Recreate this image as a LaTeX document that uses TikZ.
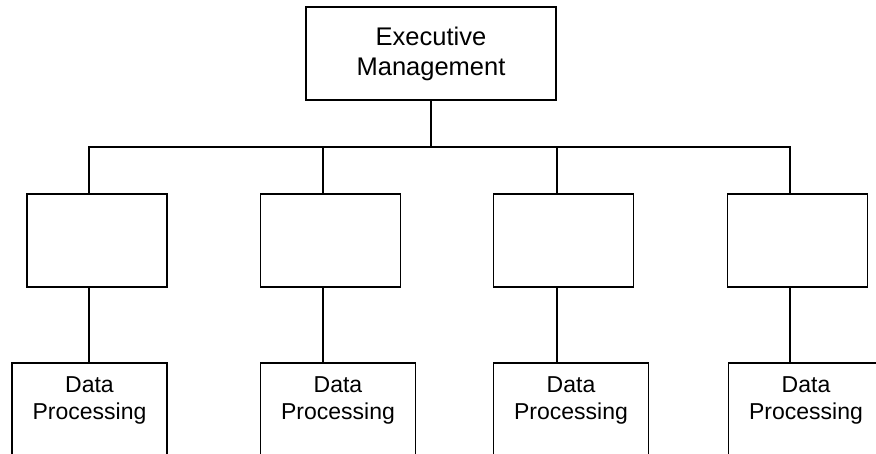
\documentclass[tikz,border=0pt]{standalone}
\usepackage{fontspec}
\setmainfont{Liberation Sans}
\tikzset{
  orgbox/.style={draw, line width=1.8pt, inner sep=0pt, align=center},
  link/.style={line width=1.8pt}
}
\begin{document}
\begin{tikzpicture}[x=1pt, y=-1pt]
    \useasboundingbox (0,0) rectangle (876,454);
    \clip (0,0) rectangle (876,454);

    % Executive box
    \node[orgbox, minimum width=250pt, minimum height=93pt, font=\fontsize{25.5}{30}\selectfont] (exec) at (431,53.5) {Executive\\Management};

    % Middle row (empty boxes)
    \node[orgbox, minimum width=140pt, minimum height=93pt] (mid1) at (97,240.5) {};
    \node[orgbox, minimum width=140pt, minimum height=93pt] (mid2) at (330.5,240.5) {};
    \node[orgbox, minimum width=140pt, minimum height=93pt] (mid3) at (563.5,240.5) {};
    \node[orgbox, minimum width=140pt, minimum height=93pt] (mid4) at (797.5,240.5) {};

    % Bottom row, cut off at the lower edge
    \node[orgbox, anchor=north, minimum width=155pt, inner ysep=14pt, text depth=80pt, font=\fontsize{23}{27}\selectfont] (dp1) at (89.5,362) {Data\\Processing};
    \node[orgbox, anchor=north, minimum width=155pt, inner ysep=14pt, text depth=80pt, font=\fontsize{23}{27}\selectfont] (dp2) at (338,362) {Data\\Processing};
    \node[orgbox, anchor=north, minimum width=155pt, inner ysep=14pt, text depth=80pt, font=\fontsize{23}{27}\selectfont] (dp3) at (571,362) {Data\\Processing};
    \node[orgbox, anchor=north, minimum width=155pt, inner ysep=14pt, text depth=80pt, font=\fontsize{23}{27}\selectfont] (dp4) at (806,362) {Data\\Processing};

    % Bus line under the executive box
    \coordinate (busL) at (89,147);
    \coordinate (busR) at (790,147);
    \draw[link] (exec.south) -- (exec.south |- busL);
    \draw[link] ([xshift=-8pt]mid1.north) -- ([xshift=-8pt]mid1.north |- busL) -- (busR) -- ([xshift=-7.5pt]mid4.north);
    \draw[link] ([xshift=-7.5pt]mid2.north) -- ([xshift=-7.5pt]mid2.north |- busL);
    \draw[link] ([xshift=-6.5pt]mid3.north) -- ([xshift=-6.5pt]mid3.north |- busL);

    % Links down to data processing
    \draw[link] ([xshift=-8pt]mid1.south) -- ([xshift=-8pt]mid1.south |- dp1.north);
    \draw[link] ([xshift=-7.5pt]mid2.south) -- ([xshift=-7.5pt]mid2.south |- dp2.north);
    \draw[link] ([xshift=-6.5pt]mid3.south) -- ([xshift=-6.5pt]mid3.south |- dp3.north);
    \draw[link] ([xshift=-7.5pt]mid4.south) -- ([xshift=-7.5pt]mid4.south |- dp4.north);
\end{tikzpicture}
\end{document}
